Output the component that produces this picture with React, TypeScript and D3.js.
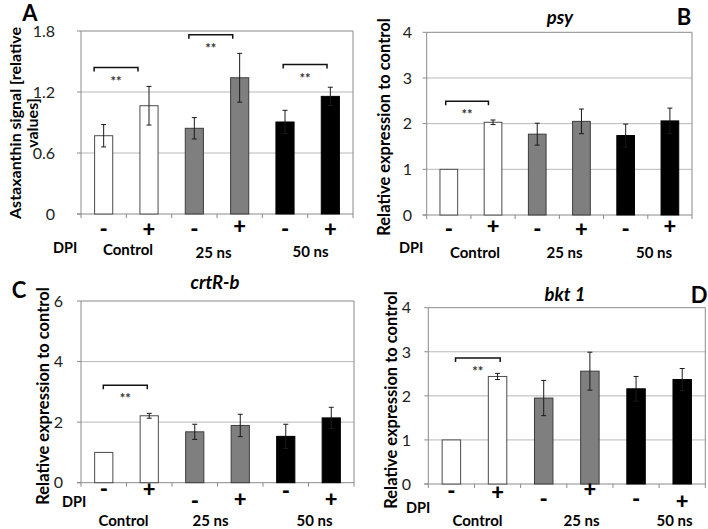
import React from 'react';
import * as d3 from 'd3';

// ---------- data ----------
const conditions = ['-', '+', '-', '+', '-', '+'];
const groups = ['Control', '25 ns', '50 ns'];
const barKinds = ['white', 'white', 'grey', 'grey', 'black', 'black'];

const astaxanthin = [0.77, 1.065, 0.843, 1.34, 0.905, 1.157];
const astaxanthinErr = [0.11, 0.19, 0.105, 0.24, 0.115, 0.09];
const psy = [1.0, 2.03, 1.77, 2.05, 1.74, 2.06];
const psyErr = [0, 0.05, 0.24, 0.27, 0.25, 0.28];
const crtRb = [1.0, 2.21, 1.68, 1.89, 1.53, 2.14];
const crtRbErr = [0, 0.08, 0.25, 0.37, 0.4, 0.35];
const bkt1 = [1.0, 2.44, 1.95, 2.56, 2.16, 2.37];
const bkt1Err = [0, 0.07, 0.4, 0.43, 0.28, 0.25];

const ticksA = [0, 0.6, 1.2, 1.8];
const ticksB = [0, 1, 2, 3, 4];
const ticksC = [0, 2, 4, 6];
const ticksD = [0, 1, 2, 3, 4];

const sigA = [
  { from: 0, to: 1, y: 1.44 },
  { from: 2, to: 3, y: 1.764 },
  { from: 4, to: 5, y: 1.47 },
];
const sigB = [{ from: 0, to: 1, y: 2.49 }];
const sigC = [{ from: 0, to: 1, y: 3.22 }];
const sigD = [{ from: 0, to: 1, y: 2.86 }];

// ---------- styles ----------
const FONT = 'Lato, "Open Sans", sans-serif';
const fills: Record<string, string> = { white: '#ffffff', grey: '#7f7f7f', black: '#000000' };
const strokes: Record<string, string> = { white: '#4a4a4a', grey: '#3c3c3c', black: '#000000' };

type Layout = {
  left: number; right: number; top: number; bottom: number;
  yMax: number; tickFmt: (v: number) => string; tickRight: number;
  letter: string; letterX: number; letterY: number;
  title?: string; titleX?: number; titleY?: number;
  yTitle: string[]; yTitleX: number[]; yTitleY: number;
  signY: number[]; dpiX: number; dpiY: number;
  groupX: number[]; groupY: number[];
  sigDx: number[];
};

function Panel({ values, errs, ticks, sig, L }: { values: number[]; errs: number[]; ticks: number[]; sig: { from: number; to: number; y: number }[]; L: Layout }) {
  const x = d3.scaleBand<number>().domain(d3.range(values.length)).range([L.left, L.right]).padding(0);
  const y = d3.scaleLinear().domain([0, L.yMax]).range([L.bottom, L.top]);
  const bw = x.bandwidth();
  const barW = bw * 0.4;
  return (
    <g>
      {/* gridlines */}
      {ticks.filter(t => t > 0 && t < L.yMax).map(t => (
        <line key={'g' + t} x1={L.left} x2={L.right} y1={y(t)} y2={y(t)} stroke="#b8b8b8" strokeWidth={1} />
      ))}
      {/* frame: top and right */}
      <line x1={L.left} x2={L.right} y1={y(L.yMax)} y2={y(L.yMax)} stroke="#8a8a8a" strokeWidth={1} />
      <line x1={L.right} x2={L.right} y1={y(L.yMax)} y2={y(0)} stroke="#8a8a8a" strokeWidth={1} />
      {/* y axis */}
      <line x1={L.left} x2={L.left} y1={y(L.yMax)} y2={y(0)} stroke="#8a8a8a" strokeWidth={1} />
      {ticks.map(t => (
        <g key={'t' + t}>
          <line x1={L.left - 4} x2={L.left} y1={y(t)} y2={y(t)} stroke="#8a8a8a" />
          <text x={L.tickRight} y={y(t)} dy="0.36em" textAnchor="end" fontSize={16} fontFamily={FONT} fill="#222">{L.tickFmt(t)}</text>
        </g>
      ))}
      {/* x axis */}
      <line x1={L.left - 4} x2={L.right} y1={y(0)} y2={y(0)} stroke="#8a8a8a" strokeWidth={1} />
      {d3.range(values.length + 1).map(i => {
        const xx = i < values.length ? (x(i) as number) : L.right;
        return <line key={'xt' + i} x1={xx} x2={xx} y1={y(0)} y2={y(0) + 4} stroke="#8a8a8a" />;
      })}
      {/* bars */}
      {values.map((v, i) => {
        const cx = (x(i) as number) + bw / 2;
        const k = barKinds[i];
        return (
          <rect key={'b' + i} x={cx - barW / 2} y={y(v)} width={barW} height={y(0) - y(v)} fill={fills[k]} stroke={strokes[k]} strokeWidth={1} />
        );
      })}
      {/* error bars */}
      {values.map((v, i) => {
        if (!errs[i]) return null;
        const cx = (x(i) as number) + bw / 2;
        const y1 = y(v + errs[i]);
        const y2 = y(v - errs[i]);
        return (
          <g key={'e' + i} stroke="#1a1a1a" strokeWidth={1}>
            <line x1={cx} x2={cx} y1={y1} y2={y2} />
            <line x1={cx - 2.5} x2={cx + 2.5} y1={y1} y2={y1} />
            <line x1={cx - 2.5} x2={cx + 2.5} y1={y2} y2={y2} />
          </g>
        );
      })}
      {/* significance brackets */}
      {sig.map((s, j) => {
        const x1 = (x(s.from) as number) + L.sigDx[j] * bw;
        const x2 = (x(s.to) as number) + L.sigDx[j] * bw - 1.5;
        const yy = y(s.y);
        return (
          <g key={'s' + j}>
            <path d={`M${x1},${yy + 4}V${yy}H${x2}V${yy + 4}`} fill="none" stroke="#111" strokeWidth={1.5} />
            <text x={(x1 + x2) / 2} y={yy + 18} textAnchor="middle" fontSize={13} fontWeight="bold" fontFamily={FONT} fill="#333333">**</text>
          </g>
        );
      })}
      {/* condition signs */}
      {conditions.map((c, i) => (
        <text key={'c' + i} x={(x(i) as number) + bw / 2} y={L.signY[i]} dy="0.32em" textAnchor="middle" fontSize={22} fontWeight="900" fontFamily={FONT} fill="#000">{c}</text>
      ))}
      <text x={L.dpiX} y={L.dpiY} dy="0.35em" textAnchor="start" fontSize={14.5} fontWeight="bold" fontFamily={FONT} fill="#000">DPI</text>
      {groups.map((g, i) => (
        <text key={'gr' + i} x={L.groupX[i]} y={L.groupY[i]} dy="0.35em" textAnchor="middle" fontSize={15} fontWeight="bold" fontFamily={FONT} fill="#000">{g}</text>
      ))}
      {/* y title */}
      {L.yTitle.map((t, i) => (
        <text key={'yt' + i} transform={`translate(${L.yTitleX[i]},${L.yTitleY}) rotate(-90)`} dy="0.35em" textAnchor="middle" fontSize={L.yTitle.length > 1 ? 16 : 16.5} fontWeight="bold" fontFamily={FONT} fill="#000">{t}</text>
      ))}
      {L.title && (
        <text x={L.titleX} y={L.titleY} dy="0.35em" textAnchor="middle" fontSize={18.5} fontWeight="bold" fontStyle="italic" fontFamily={FONT} fill="#000">{L.title}</text>
      )}
      <text x={L.letterX} y={L.letterY} dy="0.36em" textAnchor="middle" fontSize={22} fontWeight="bold" fontFamily={FONT} fill="#000">{L.letter}</text>
    </g>
  );
}

const fmt1 = (v: number) => (v === 0 ? '0' : d3.format('.1f')(v));
const fmt0 = (v: number) => String(v);

const layoutA: Layout = {
  left: 81, right: 353, top: 31, bottom: 214, yMax: 1.8, tickFmt: fmt1, tickRight: 55,
  letter: 'A', letterX: 30, letterY: 13,
  yTitle: ['Astaxanthin signal [relative', 'values]'], yTitleX: [15, 32], yTitleY: 123,
  signY: [230, 230, 230, 227, 230, 230], dpiX: 53, dpiY: 248,
  groupX: [128, 213.5, 310.5], groupY: [250, 253, 252],
  sigDx: [0.29, 0.38, 0.46],
};
const layoutB: Layout = {
  left: 426.7, right: 692, top: 32.3, bottom: 215, yMax: 4, tickFmt: fmt0, tickRight: 412,
  letter: 'B', letterX: 684, letterY: 17,
  title: 'psy', titleX: 560, titleY: 18,
  yTitle: ['Relative expression to control'], yTitleX: [384], yTitleY: 127,
  signY: [230, 227, 230, 230, 230, 227], dpiX: 399, dpiY: 248,
  groupX: [475, 564.5, 654], groupY: [253, 253, 253],
  sigDx: [0.43],
};
const layoutC: Layout = {
  left: 81, right: 354, top: 301, bottom: 482.7, yMax: 6, tickFmt: fmt0, tickRight: 63,
  letter: 'C', letterX: 19, letterY: 290,
  title: 'crtR-b', titleX: 215, titleY: 283,
  yTitle: ['Relative expression to control'], yTitleX: [43], yTitleY: 396,
  signY: [490, 490, 502, 500, 492, 500], dpiX: 62, dpiY: 502,
  groupX: [123.5, 210.5, 314.5], groupY: [521, 521, 521],
  sigDx: [0.49],
};
const layoutD: Layout = {
  left: 428.3, right: 705.3, top: 307.7, bottom: 484, yMax: 4, tickFmt: fmt0, tickRight: 411,
  letter: 'D', letterX: 699, letterY: 295,
  title: 'bkt 1', titleX: 565, titleY: 295,
  yTitle: ['Relative expression to control'], yTitleX: [391], yTitleY: 400,
  signY: [492, 493, 500, 490, 500, 502], dpiX: 406, dpiY: 508,
  groupX: [477.5, 581.5, 674.5], groupY: [521, 521, 521],
  sigDx: [0.59],
};

export default function App() {
  return (
    <div style={{ position: 'absolute', left: 0, top: 0 }}>
      <svg width={708} height={529} viewBox="0 0 708 529" style={{ display: 'block', background: '#fff' }}>
        <rect width={708} height={529} fill="#fff" />
        <Panel values={astaxanthin} errs={astaxanthinErr} ticks={ticksA} sig={sigA} L={layoutA} />
        <Panel values={psy} errs={psyErr} ticks={ticksB} sig={sigB} L={layoutB} />
        <Panel values={crtRb} errs={crtRbErr} ticks={ticksC} sig={sigC} L={layoutC} />
        <Panel values={bkt1} errs={bkt1Err} ticks={ticksD} sig={sigD} L={layoutD} />
      </svg>
    </div>
  );
}
